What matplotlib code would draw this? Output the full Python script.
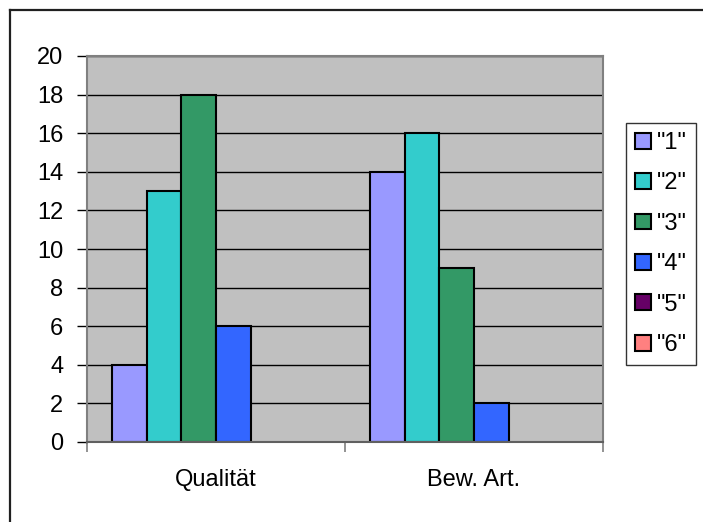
import matplotlib
matplotlib.use("Agg")
import matplotlib.pyplot as plt
from matplotlib.lines import Line2D
import numpy as np

plt.rcParams['font.family'] = ['Liberation Sans', 'DejaVu Sans']

# Survey results: counts per grade for two criteria
categories = ["Qualität", "Bew. Art."]
series_names = ['"1"', '"2"', '"3"', '"4"', '"5"', '"6"']
values = {
    '"1"': [4, 14],
    '"2"': [13, 16],
    '"3"': [18, 9],
    '"4"': [6, 2],
    '"5"': [0, 0],
    '"6"': [0, 0],
}
colors = ["#9999FF", "#33CCCC", "#339966", "#3366FF", "#660066", "#FF8080"]
yticks = [0, 2, 4, 6, 8, 10, 12, 14, 16, 18, 20]

FS = 17.0
W, H = 703, 522
fig = plt.figure(figsize=(W / 100, H / 100), dpi=100)
fig.patch.set_facecolor("white")

# plot area in pixel coordinates
left, top, right, bottom = 87, 56, 603, 442
ax = fig.add_axes([left / W, (H - bottom) / H, (right - left) / W, (bottom - top) / H])
ax.set_facecolor("#C0C0C0")

x = np.arange(len(categories))
n = len(series_names)
bw = 0.134
handles = []
for i, name in enumerate(series_names):
    offs = (i - (n - 1) / 2) * bw
    vals = values[name]
    b = ax.bar(x + offs, vals, width=bw, color=colors[i],
               edgecolor="black", linewidth=1.5, label=name, zorder=3)
    for rect, v in zip(b, vals):
        if v == 0:
            rect.set_visible(False)
    handles.append(b)

ax.set_xlim(-0.5, len(categories) - 0.5)
ax.set_ylim(0, 20)
ax.set_yticks(yticks)
ax.set_yticklabels([str(t) for t in yticks])
ax.yaxis.grid(True, color="black", linewidth=1.0, zorder=1)
ax.set_axisbelow(True)

ax.set_xticks(x)
ax.set_xticklabels(categories)
ax.set_xticks(np.arange(len(categories) + 1) - 0.5, minor=True)
ax.tick_params(axis="x", which="major", length=0, pad=19.5, labelsize=FS)
ax.tick_params(axis="x", which="minor", length=7, width=1.2, color="#808080", direction="out")
ax.tick_params(axis="y", length=7, width=1.0, color="black", direction="out",
               pad=10, labelsize=FS)

for s in ax.spines.values():
    s.set_color("#808080")
    s.set_linewidth(1.5)
    s.set_zorder(4)
ax.spines["bottom"].set_color("#606060")

leg = fig.legend(handles=[h.patches[0] for h in handles], labels=series_names,
                 loc="upper left",
                 bbox_to_anchor=(626 / W, (H - 123) / H),
                 frameon=True, fancybox=False, shadow=False,
                 fontsize=FS, handlelength=0.68, handleheight=0.65,
                 handletextpad=0.25, labelspacing=0.78, borderpad=0.38,
                 borderaxespad=0)
leg.get_frame().set_edgecolor("black")
leg.get_frame().set_linewidth(1.0)
for p in leg.get_patches():
    p.set_visible(True)
    p.set_linewidth(1.5)

# chart border (top and left edges)
fig.add_artist(Line2D([10 / W, 10 / W], [0, (H - 10) / H], color="#202020",
                      linewidth=1.6, transform=fig.transFigure))
fig.add_artist(Line2D([10 / W, 1], [(H - 10) / H, (H - 10) / H], color="#202020",
                      linewidth=1.6, transform=fig.transFigure))

fig.savefig("out.png", dpi=100)
